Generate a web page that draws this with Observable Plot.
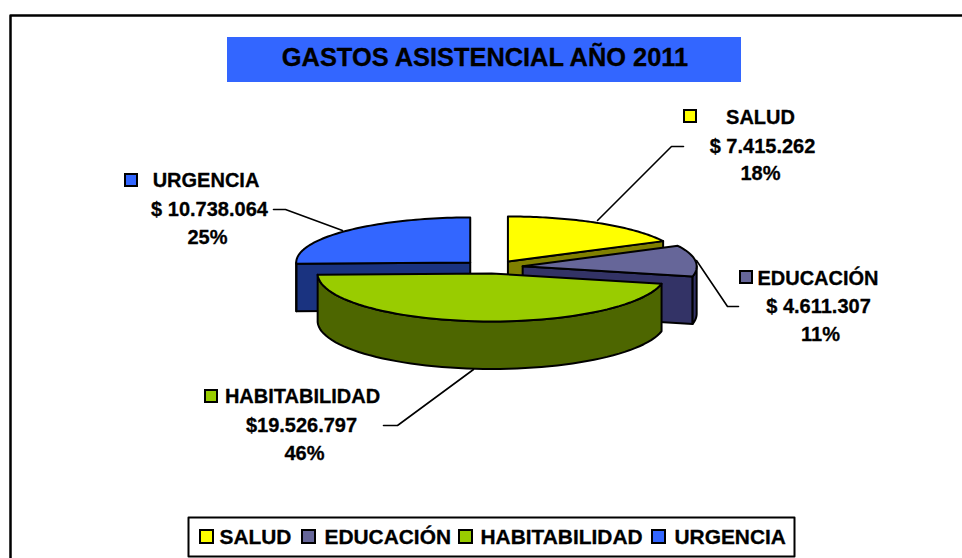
<!DOCTYPE html>
<html><head><meta charset="utf-8">
<script src="https://cdn.jsdelivr.net/npm/d3@7"></script>
<script src="https://cdn.jsdelivr.net/npm/@observablehq/plot@0.6"></script>
<style>html,body{margin:0;padding:0;background:#fff}svg{display:block}</style>
</head><body><div id="chart"></div>
<script>
const categories = ["SALUD", "EDUCACIÓN", "HABITABILIDAD", "URGENCIA"];
const values = [7415262, 4611307, 19526797, 10738064];
const valueLabels = ["$ 7.415.262", "$ 4.611.307", "$19.526.797", "$ 10.738.064"];
const percentLabels = ["18%", "11%", "46%", "25%"];
const topColors = ["#FFFF00", "#666699", "#99CC00", "#3366FF"];
const sideColors = ["#808000", "#333366", "#4D6600", "#1A3380"];
const drawOrder = [3, 0, 1, 2];

// pie projection layout
const pie = {cx: 492, cy: 266.5, rx: 174, ryBack: 45, ryFront: 48, depth: 47.5, ex: 30.4, ey: 6.5};
const sliceNudgeX = [-0.5, 0, 2, -0.5];
// which cut face of each slice turns towards the viewer: 0 = start edge, 1 = end edge
const visibleCut = [1, 1, null, 0];
// callout layout, one per category
const swatchX = [684, 740, 205, 125], swatchY = [110, 271, 390, 174];
const nameX = [760, 817.5, 302, 205.5], nameY = [117, 278, 396, 180];
const valueX = [762, 818, 301, 209], valueY = [146, 306, 425, 209];
const pctX = [760, 820, 304, 207], pctY = [173, 334, 453, 237];
const leaders = [
  [[683,146],[671,146],[597,220]],
  [[738,306],[727,306],[696,260]],
  [[383,425],[397,425],[473,369]],
  [[273,209],[285,209],[342,230]]
];
// legend layout
const legendSwatchX = [200, 302, 459, 652];
const legendTextX = [219, 324, 480, 674];

const total = d3.sum(values);
let acc = 0;
const slices = values.map((v, i) => {
  const a0 = acc / total * 2 * Math.PI; acc += v;
  const a1 = acc / total * 2 * Math.PI;
  const m = (a0 + a1) / 2;
  return {i, a0, a1, ax: pie.cx + sliceNudgeX[i] + pie.ex * Math.sin(m), ay: pie.cy - pie.ey * Math.cos(m)};
});
const rim = (s, a) => {
  const c = Math.cos(a);
  return [s.ax + pie.rx * Math.sin(a), s.ay - (c > 0 ? pie.ryBack : pie.ryFront) * c];
};
const arc = (s, from, to) => d3.range(0, 61).map(k => rim(s, from + (to - from) * k / 60));
const down = p => [p[0], p[1] + pie.depth];

const polys = [];
const addPoly = (points, fill, id) => points.forEach((p, k) => polys.push({x: p[0], y: p[1], fill, id, k}));
for (const idx of drawOrder) {
  const s = slices[idx], apex = [s.ax, s.ay];
  const side = sideColors[idx];
  if (visibleCut[idx] !== null) {
    const r = rim(s, visibleCut[idx] ? s.a1 : s.a0);
    addPoly([apex, r, down(r), down(apex)], side, `cut${idx}`);
  }
  // outer wall: the part of the rim in the front half
  const from = Math.max(s.a0, Math.PI / 2), to = Math.min(s.a1, 3 * Math.PI / 2);
  if (to > from) {
    const top = arc(s, from, to);
    addPoly([...top, ...top.slice().reverse().map(down)], side, `wall${idx}`);
  }
  addPoly([apex, ...arc(s, s.a0, s.a1)], topColors[idx], `top${idx}`);
}

const leaderRows = leaders.flatMap((l, i) => l.map(p => ({x: p[0], y: p[1], i})));
const box = (x1, y1, x2, y2) => [{x: x1, y: y1}, {x: x2, y: y1}, {x: x2, y: y2}, {x: x1, y: y2}, {x: x1, y: y1}];
const font = "Liberation Sans, Arial, sans-serif";
const swatch = (xs, ys, size) => Plot.rect(categories, {
  x1: (d, i) => xs[i], x2: (d, i) => xs[i] + size,
  y1: (d, i) => ys[i], y2: (d, i) => ys[i] + size,
  fill: (d, i) => topColors[i], stroke: "#000", strokeWidth: 2
});
const txt = (strs, xs, ys, size, anchor) => Plot.text(strs, {
  x: (d, i) => xs[i], y: (d, i) => ys[i], text: d => d,
  fontSize: size, fontWeight: 700, fill: "#000", stroke: "#000", strokeWidth: 0.3, textAnchor: anchor, lineAnchor: "middle"
});

const chart = Plot.plot({
  width: 962, height: 558,
  margin: 0,
  style: {fontFamily: font, background: "#fff", overflow: "hidden"},
  x: {domain: [0, 962], range: [0, 962], axis: null},
  y: {domain: [0, 558], range: [0, 558], axis: null},
  marks: [
    // chart frame
    Plot.line(box(10, 15, 980, 580), {x: "x", y: "y", stroke: "#000", strokeWidth: 2.5}),
    // title band
    Plot.rect([0], {x1: 227, x2: 741, y1: 37, y2: 82, fill: "#3366FF"}),
    txt(["GASTOS ASISTENCIAL AÑO 2011"], [484.5], [57], 25.4, "middle"),
    // leaders
    Plot.line(leaderRows, {x: "x", y: "y", z: "i", stroke: "#000", strokeWidth: 1.6}),
    // pie
    Plot.line(polys, {x: "x", y: "y", z: "id", fill: "fill", stroke: "#000", strokeWidth: 2, strokeLinejoin: "round", sort: null, curve: "linear-closed"}),
    // callouts
    swatch(swatchX, swatchY, 12),
    txt(categories, nameX, nameY, 20, "middle"),
    txt(valueLabels, valueX, valueY, 20, "middle"),
    txt(percentLabels, pctX, pctY, 20, "middle"),
    // legend
    Plot.line(box(188, 517, 794, 556), {x: "x", y: "y", stroke: "#000", strokeWidth: 2}),
    swatch(legendSwatchX, categories.map(() => 530), 13),
    txt(categories, legendTextX, categories.map(() => 537), 20.9, "start")
  ]
});
document.getElementById("chart").append(chart);
</script></body></html>
